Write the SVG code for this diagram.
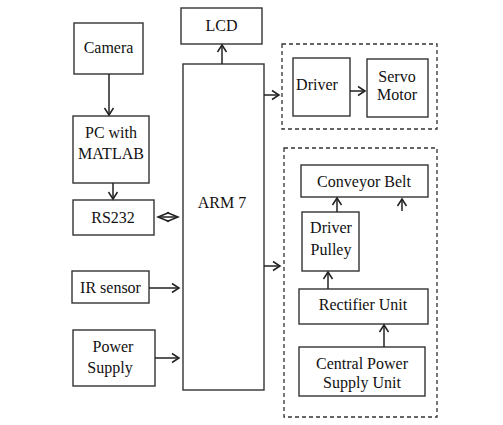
<svg xmlns="http://www.w3.org/2000/svg" width="503" height="425" viewBox="0 0 503 425">
<defs>
<marker id="ah" markerUnits="userSpaceOnUse" markerWidth="12" markerHeight="12" viewBox="0 0 12 12" refX="9" refY="6" orient="auto-start-reverse">
<path d="M2,1.5 L9,6 L2,10.5" fill="none" stroke="#222" stroke-width="1.5"/>
</marker>
<marker id="dh" markerUnits="userSpaceOnUse" markerWidth="14" markerHeight="12" viewBox="0 0 14 12" refX="12" refY="6" orient="auto-start-reverse">
<path d="M1,1.5 L12,6 L1,10.5" fill="none" stroke="#222" stroke-width="1.5"/>
</marker>
</defs>
<style>
rect.b{fill:#fff;stroke:#333;stroke-width:1.4}
rect.d{fill:none;stroke:#333;stroke-width:1.3;stroke-dasharray:4,3}
text{font-family:"Liberation Serif","Times New Roman",serif;font-size:16px;fill:#111;text-anchor:middle}
.c line{stroke:#222;stroke-width:1.5;marker-end:url(#ah)}
</style>
<rect width="503" height="425" fill="#fff"/>
<rect class="d" x="282" y="44" width="155" height="85"/>
<rect class="d" x="284" y="148" width="153" height="269"/>
<g id="camera"><rect class="b" x="74" y="23" width="69" height="51"/><text x="108.5" y="53">Camera</text></g>
<g id="lcd"><rect class="b" x="181" y="8" width="81" height="36"/><text x="221.5" y="31">LCD</text></g>
<g id="arm7"><rect class="b" x="183" y="64" width="81" height="326"/><text x="222" y="208">ARM 7</text></g>
<g id="pc"><rect class="b" x="73" y="116" width="76" height="67"/><text x="111" y="138">PC with</text><text x="111" y="159">MATLAB</text></g>
<g id="rs232"><rect class="b" x="73" y="200" width="81" height="35"/><text x="113" y="223">RS232</text></g>
<g id="ir"><rect class="b" x="72" y="271" width="77" height="32"/><text x="110.5" y="293">IR sensor</text></g>
<g id="power"><rect class="b" x="73" y="330" width="82" height="56"/><text x="113" y="352">Power</text><text x="110" y="373">Supply</text></g>
<g id="driver"><rect class="b" x="293" y="58" width="57" height="58"/><text x="317" y="90">Driver</text></g>
<g id="servo"><rect class="b" x="367" y="59" width="61" height="58"/><text x="397" y="82">Servo</text><text x="397" y="100">Motor</text></g>
<g id="conveyor"><rect class="b" x="301" y="165" width="127" height="32"/><text x="364" y="187">Conveyor Belt</text></g>
<g id="pulley"><rect class="b" x="302" y="212" width="57" height="59"/><text x="331" y="233">Driver</text><text x="331" y="255">Pulley</text></g>
<g id="rectifier"><rect class="b" x="299" y="289" width="129" height="35"/><text x="363" y="310">Rectifier Unit</text></g>
<g id="central"><rect class="b" x="299" y="347" width="126" height="49"/><text x="362" y="369">Central Power</text><text x="362" y="388">Supply Unit</text></g>
<g class="c" id="connectors">
<line x1="109" y1="74" x2="109" y2="115"/>
<line x1="113" y1="183" x2="113" y2="199"/>
<line x1="222" y1="64" x2="222" y2="45"/>
<line x1="158" y1="217" x2="178" y2="217" style="marker-start:url(#dh);marker-end:url(#dh)"/>
<line x1="149" y1="288" x2="179" y2="288"/>
<line x1="155" y1="358" x2="179" y2="358"/>
<line x1="264" y1="95" x2="279" y2="95"/>
<line x1="264" y1="266" x2="280" y2="266"/>
<line x1="350" y1="91" x2="365" y2="91"/>
<line x1="337" y1="212" x2="337" y2="198"/>
<line x1="402" y1="211" x2="402" y2="199"/>
<line x1="328" y1="289" x2="328" y2="272"/>
<line x1="384" y1="347" x2="384" y2="325"/>
</g>
</svg>
